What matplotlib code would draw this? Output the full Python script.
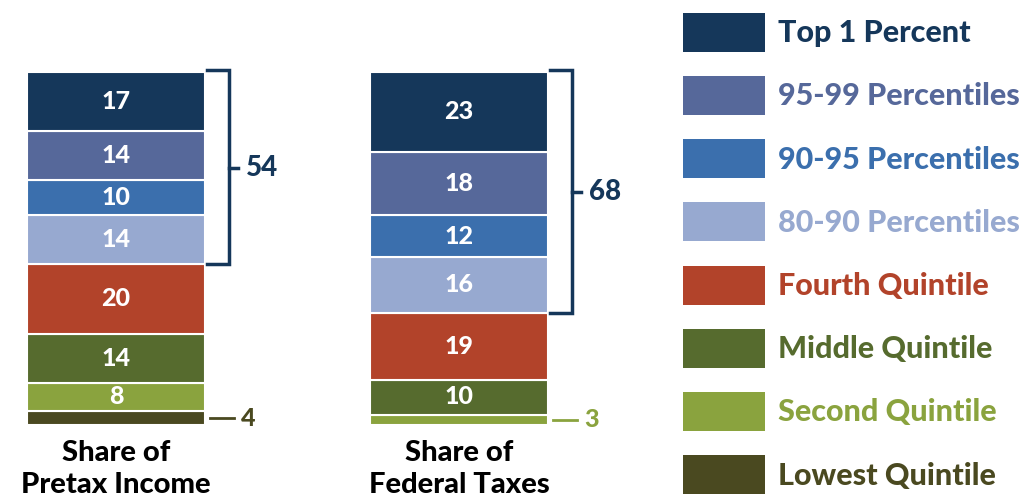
import matplotlib.pyplot as plt
from matplotlib.patches import Patch

plt.rcParams['font.family'] = ['Lato', 'DejaVu Sans']

groups = ['Lowest Quintile', 'Second Quintile', 'Middle Quintile', 'Fourth Quintile',
          '80-90 Percentiles', '90-95 Percentiles', '95-99 Percentiles', 'Top 1 Percent']
colors = ['#4a4920', '#8aa33e', '#566b2e', '#b2432a',
          '#97a9d0', '#3b6fad', '#56689a', '#15375a']
pretax = [4, 8, 14, 20, 14, 10, 14, 17]
taxes = [0, 3, 10, 19, 16, 12, 18, 23]
bar_labels = ['Share of\nPretax Income', 'Share of\nFederal Taxes']
top_shares = [54, 68]
small_labels = [(0, 0), (1, 1)]   # (bar, group index) shown outside the bar

fig = plt.figure(figsize=(10.33, 5), dpi=100)
ax = fig.add_axes([0, 0, 1, 1])
# 3.5 px per unit, bar baseline at pixel row 425
ax.set_ylim(-75 / 3.5, 425 / 3.5)
ax.set_xlim(-116 / 343, (1033 - 116) / 343)
ax.axis('off')

width = 0.52
for i, vals in enumerate([pretax, taxes]):
    bottom = 0
    for g, v in enumerate(vals):
        if v > 0:
            ax.bar(i, v, width, bottom=bottom, color=colors[g],
                   edgecolor='white', linewidth=1.5)
            if v >= 5:
                ax.text(i, bottom + v / 2, str(v), ha='center', va='center',
                        color='white', fontsize=18, fontweight='black')
        bottom += v
    ax.text(i, -12.5, bar_labels[i], ha='center', va='center', fontsize=21,
            fontweight='black', color='black', linespacing=1.3)

# brackets around top 20 percent
for i, vals in enumerate([pretax, taxes]):
    top = sum(vals)
    low = sum(vals[:4])
    x0 = i + width / 2 + 0.005
    x1 = x0 + 0.065
    ax.plot([x0, x1, x1, x0], [top + 0.5, top + 0.5, low, low],
            color='#15375a', lw=2.5, solid_joinstyle='miter')
    mid = (top + low) / 2
    ax.plot([x1, x1 + 0.025], [mid, mid], color='#15375a', lw=2.5)
    ax.text(x1 + 0.05, mid, str(top_shares[i]), ha='left', va='center',
            fontsize=20, fontweight='black', color='#15375a')

# small values outside bars
for i, g in small_labels:
    vals = [pretax, taxes][i]
    v = vals[g]
    y = sum(vals[:g]) + v / 2
    x0 = i + width / 2 + 0.015
    ax.plot([x0, x0 + 0.07], [y, y], color=colors[g], lw=2)
    ax.text(x0 + 0.09, y, str(v), ha='left', va='center', fontsize=18,
            fontweight='black', color=colors[g])

handles = [Patch(facecolor=c, edgecolor='none') for c in colors][::-1]
leg = fig.legend(handles, groups[::-1], loc='upper left', bbox_to_anchor=(0.649, 0.999),
                 frameon=False, handlelength=2.7, handleheight=1.59,
                 labelspacing=0.79, handletextpad=0.42, borderaxespad=0,
                 prop={'weight': 'black', 'size': 22})
for t, c in zip(leg.get_texts(), colors[::-1]):
    t.set_color(c)

fig.savefig('out.png', dpi=100, facecolor='white')
